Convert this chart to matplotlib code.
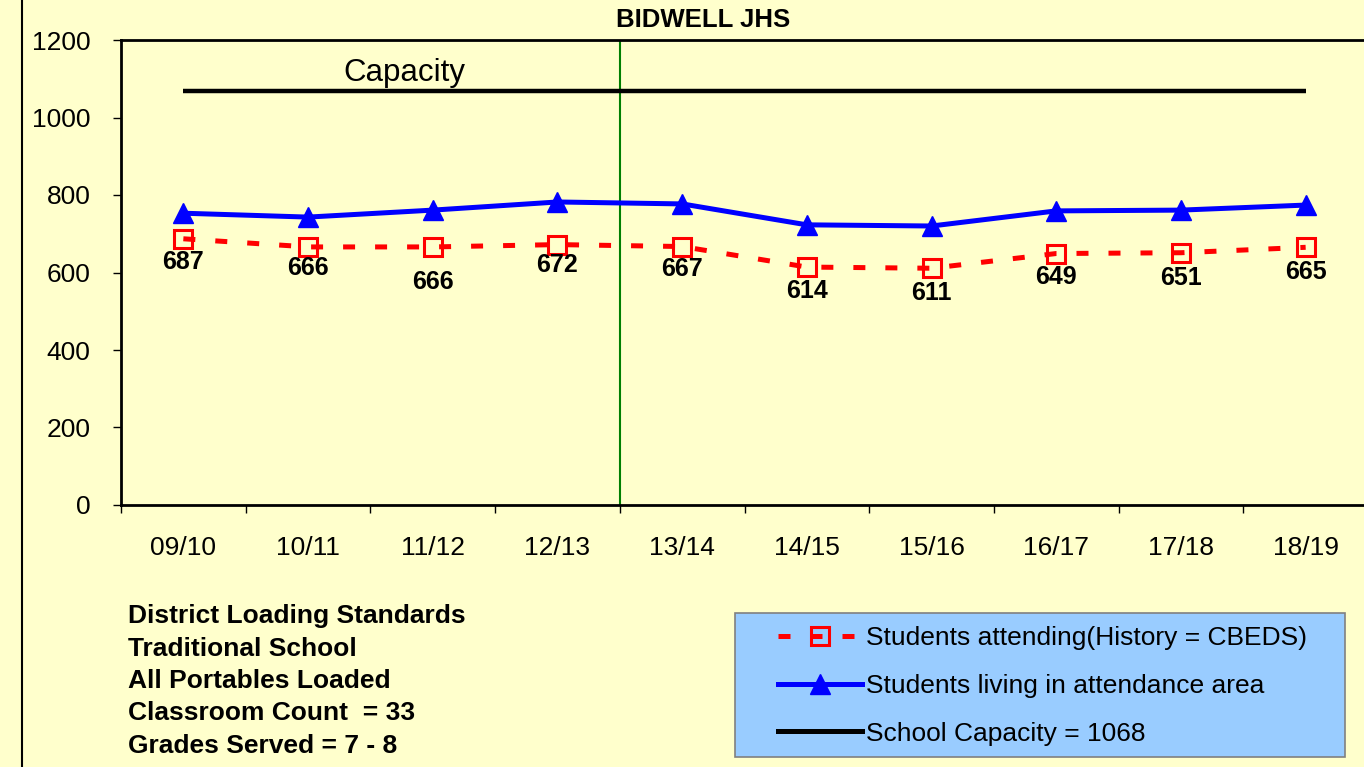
import matplotlib
matplotlib.use("Agg")
import matplotlib.pyplot as plt
from matplotlib.lines import Line2D
from matplotlib.patches import Rectangle

plt.rcParams['font.family'] = ['Liberation Sans', 'DejaVu Sans']

years = ["09/10", "10/11", "11/12", "12/13", "13/14", "14/15", "15/16", "16/17", "17/18", "18/19"]
attending = [687, 666, 666, 672, 667, 614, 611, 649, 651, 665]
living = [753, 743, 761, 782, 777, 723, 720, 759, 761, 774]
capacity = 1068
notes = ["District Loading Standards", "Traditional School", "All Portables Loaded",
         "Classroom Count  = 33", "Grades Served = 7 - 8"]

# label offsets below the red markers (points)
lab_off = [-17, -15, -25, -15, -16, -17, -18, -17, -18, -18]

BG = "#FFFFCC"
W, H = 1364, 767
RED_DASH = (0, (2.4, 4.0))
fig = plt.figure(figsize=(W / 100, H / 100), dpi=100, facecolor=BG)
ax = fig.add_axes([121 / W, 1 - 505 / H, 1247 / W, 465 / H], facecolor=BG)

x = list(range(len(years)))
ax.plot([x[0], x[-1]], [capacity, capacity], color="black", lw=3.2, solid_capstyle="butt", zorder=2)
ax.plot(x, living, color="#0000FF", lw=3.6, marker="^", ms=14, zorder=3)
ax.plot(x, attending, color="#FF0000", lw=3.6, ls=RED_DASH, marker="s", ms=12.5,
        mfc="none", mec="#FF0000", mew=2.2, zorder=3)
for xi, v, off in zip(x, attending, lab_off):
    ax.annotate(str(v), xy=(xi, v), xytext=(0, off), textcoords="offset points",
                ha="center", va="center", fontsize=18, fontweight="bold")

ax.axvline(3.5, color="#008000", lw=1.5, zorder=1)
ax.text(1.77, 1116, "Capacity", ha="center", va="center", fontsize=22.5)

ax.set_xlim(-0.5, 9.5)
ax.set_ylim(0, 1200)
ax.set_yticks(range(0, 1201, 200))
ax.set_xticks(x)
ax.set_xticklabels(years)
ax.set_xticks([i - 0.5 for i in range(len(years) + 1)], minor=True)
ax.tick_params(axis="x", which="major", length=0, pad=22, labelsize=19)
ax.tick_params(axis="x", which="minor", length=6, width=1, direction="out")
ax.tick_params(axis="y", length=6, width=1, direction="out", pad=16, labelsize=19)
for s in ["left", "bottom", "top"]:
    ax.spines[s].set_linewidth(2)
ax.spines["right"].set_visible(False)

fig.text(703 / W, 1 - 20 / H, "BIDWELL JHS", ha="center", va="center",
         fontsize=18.5, fontweight="bold")

for i, n in enumerate(notes):
    fig.text(128 / W, 1 - (616 + 32.5 * i) / H, n, ha="left", va="center",
             fontsize=19, fontweight="bold")

fig.add_artist(Line2D([22 / W, 22 / W], [0, 1], color="black", lw=1.5))

# legend box
fig.add_artist(Rectangle((735 / W, 1 - 757 / H), 610 / W, 144 / H, transform=fig.transFigure,
                         facecolor="#99CCFF", edgecolor="#808080", lw=1.2, zorder=1))
handles = [
    Line2D([], [], color="#FF0000", lw=3.6, ls=RED_DASH, marker="s", ms=12.5,
           mfc="none", mec="#FF0000", mew=2.2),
    Line2D([], [], color="#0000FF", lw=3.6, marker="^", ms=14),
    Line2D([], [], color="black", lw=3.6),
]
labels = ["Students attending(History = CBEDS)", "Students living in attendance area",
          "School Capacity = 1068"]
leg = fig.legend(handles, labels, loc="upper left",
                 bbox_to_anchor=(778 / W, 1 - 626 / H),
                 fontsize=19, frameon=False, handlelength=3.2,
                 handletextpad=0.15, labelspacing=0.9, borderpad=0,
                 borderaxespad=0)
leg.set_zorder(2)

fig.savefig("out.png", dpi=100, facecolor=BG)
